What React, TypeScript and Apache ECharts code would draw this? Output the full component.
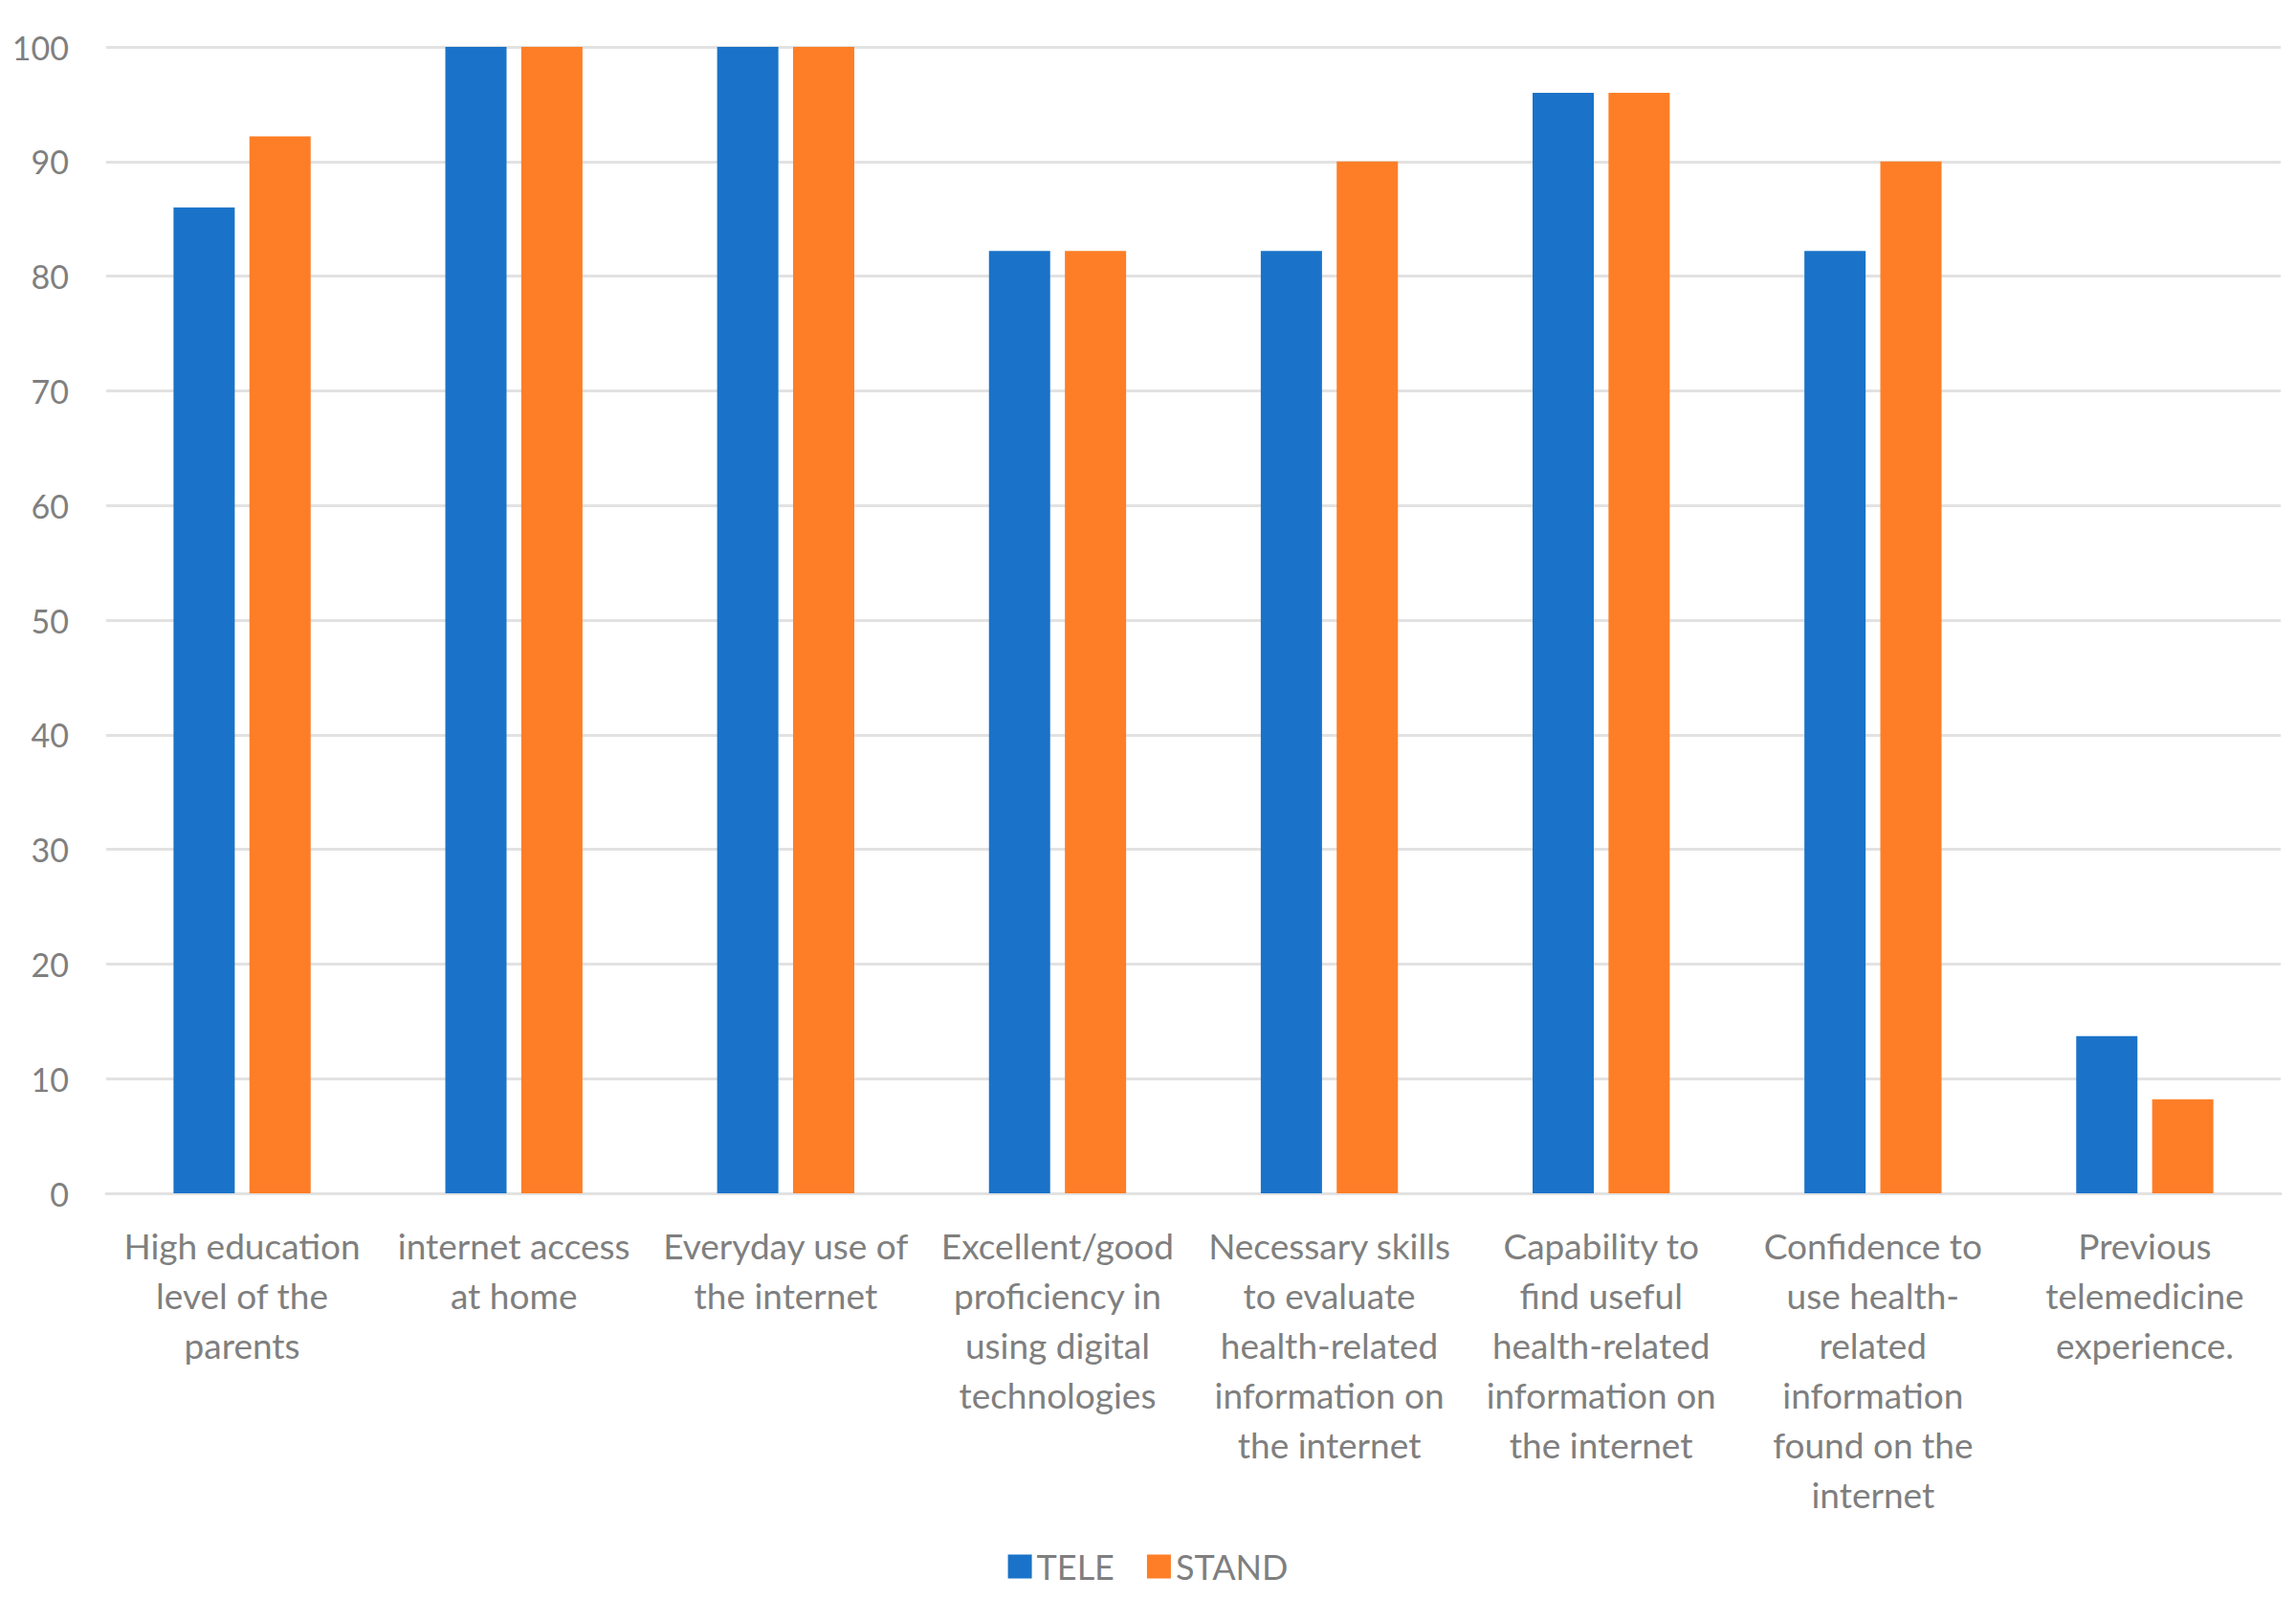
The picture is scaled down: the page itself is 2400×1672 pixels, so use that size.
import React, { useEffect, useRef } from "react";
import * as echarts from "echarts";

const categories = [
  "High education\nlevel of the\nparents",
  "internet access\nat home",
  "Everyday use of\nthe internet",
  "Excellent/good\nproficiency in\nusing digital\ntechnologies",
  "Necessary skills\nto evaluate\nhealth-related\ninformation on\nthe internet",
  "Capability to\nfind useful\nhealth-related\ninformation on\nthe internet",
  "Confidence to\nuse health-\nrelated\ninformation\nfound on the\ninternet",
  "Previous\ntelemedicine\nexperience.",
];
const teleValues = [86, 100, 100, 82.2, 82.2, 96, 82.2, 13.7];
const standValues = [92.2, 100, 100, 82.2, 90, 96, 90, 8.2];
const seriesNames = ["TELE", "STAND"];

const TEXT = "#7f7f7f";
const GRID = "#e2e2e2";
const FONT = "Lato, 'Noto Sans', sans-serif";

export default function App() {
  const ref = useRef<HTMLDivElement>(null);
  useEffect(() => {
    if (!ref.current) return;
    const chart = echarts.init(ref.current, undefined, { renderer: "svg" });
    chart.setOption({
      animation: false,
      backgroundColor: "#ffffff",
      textStyle: { fontFamily: FONT },
      grid: { left: 111, right: 16, top: 49, bottom: 425, containLabel: false },
      legend: {
        bottom: 12,
        left: "center",
        icon: "rect",
        itemWidth: 25,
        itemHeight: 25,
        itemGap: 34,
        data: seriesNames,
        textStyle: { color: TEXT, fontSize: 36, fontFamily: FONT },
      },
      xAxis: {
        type: "category",
        data: categories,
        axisTick: { show: false },
        axisLine: { lineStyle: { color: GRID, width: 3 } },
        axisLabel: {
          interval: 0,
          color: TEXT,
          fontSize: 37,
          lineHeight: 52,
          margin: 28,
          fontFamily: FONT,
        },
      },
      yAxis: {
        type: "value",
        min: 0,
        max: 100,
        interval: 10,
        axisLine: { show: false },
        axisTick: { show: false },
        splitLine: { lineStyle: { color: GRID, width: 3 } },
        axisLabel: { color: TEXT, fontSize: 34, margin: 39, fontFamily: FONT },
      },
      series: [
        {
          name: seriesNames[0],
          type: "bar",
          data: teleValues,
          barWidth: 64,
          barGap: "24%",
          itemStyle: { color: "#1a73c8" },
        },
        {
          name: seriesNames[1],
          type: "bar",
          data: standValues,
          barWidth: 64,
          barGap: "24%",
          itemStyle: { color: "#fe7e27" },
        },
      ],
    });
    return () => chart.dispose();
  }, []);
  return (
    <div
      ref={ref}
      style={{ position: "fixed", left: 0, top: 0, width: 2400, height: 1672 }}
    />
  );
}
